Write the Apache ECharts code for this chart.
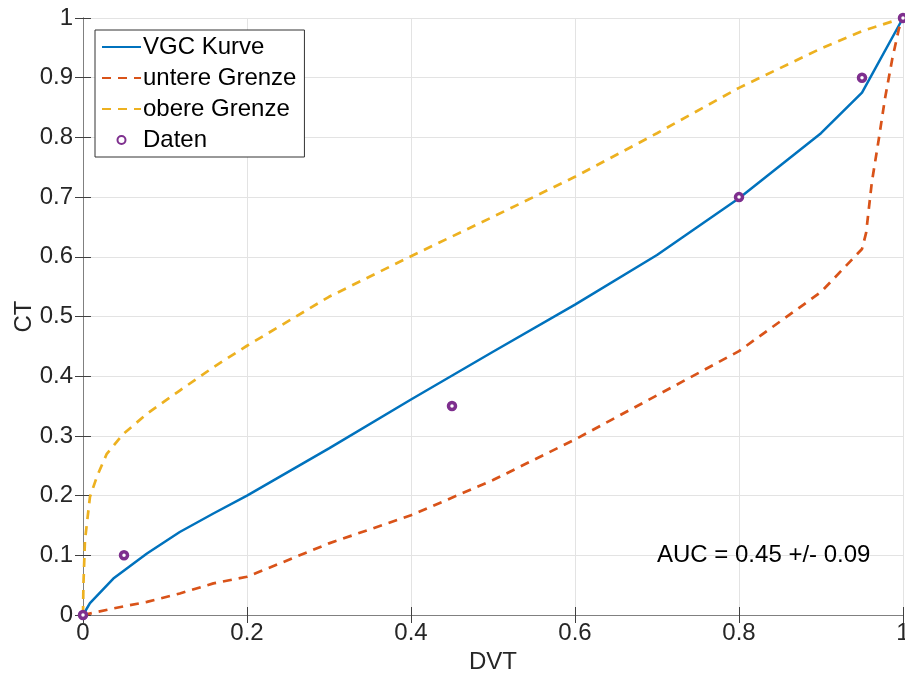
<!DOCTYPE html>
<html>
<head>
<meta charset="utf-8">
<script src="https://cdn.jsdelivr.net/npm/echarts@6/dist/echarts.min.js"></script>
<style>
  html, body { margin: 0; padding: 0; background: #fff; }
  #main { width: 905px; height: 681px; }
</style>
</head>
<body>
<div id="main"></div>
<script>
// VGC Kurve
const vgcX = [0, 0.0085, 0.037, 0.078, 0.118, 0.159, 0.2, 0.3, 0.4, 0.5, 0.6, 0.7, 0.8, 0.9, 0.95, 1]
const vgcY = [0, 0.02, 0.061, 0.103, 0.139, 0.17, 0.2, 0.279, 0.361, 0.441, 0.52, 0.603, 0.698, 0.807, 0.875, 1]

// untere Grenze
const lowX = [0, 0.037, 0.078, 0.118, 0.159, 0.2, 0.3, 0.4, 0.5, 0.6, 0.7, 0.8, 0.9, 0.95, 0.955, 0.962, 0.97, 0.978, 0.987, 0.995, 1]
const lowY = [0, 0.011, 0.022, 0.036, 0.053, 0.064, 0.12, 0.167, 0.226, 0.294, 0.368, 0.442, 0.541, 0.613, 0.64, 0.725, 0.793, 0.865, 0.932, 0.982, 1]

// obere Grenze
const upX = [0, 0.0005, 0.0024, 0.0085, 0.017, 0.029, 0.049, 0.078, 0.118, 0.159, 0.2, 0.3, 0.4, 0.5, 0.6, 0.7, 0.8, 0.9, 0.95, 1]
const upY = [0, 0.05, 0.125, 0.198, 0.232, 0.27, 0.303, 0.337, 0.376, 0.415, 0.451, 0.533, 0.601, 0.667, 0.734, 0.807, 0.883, 0.949, 0.978, 1]

// Daten
const datX = [0, 0.05, 0.45, 0.8, 0.95, 1]
const datY = [0, 0.1, 0.35, 0.7, 0.9, 1]

const xTicks = [0, 0.2, 0.4, 0.6, 0.8, 1]
const yTicks = [0, 0.1, 0.2, 0.3, 0.4, 0.5, 0.6, 0.7, 0.8, 0.9, 1]

const aucText = "AUC = 0.45 +/- 0.09"

const zip = (xs, ys) => xs.map((x, i) => [x, ys[i]])

const font = "Liberation Sans, Arial, sans-serif"
const axisGray = "#808080"
const txt = "#262626"
const fs = 24
const purple = "#7E2F8E"

const myChart = echarts.init(document.getElementById("main"))

const baseAxis = {
  min: 0,
  max: 1,
  axisLine: { show: true, lineStyle: { color: axisGray, width: 1 } },
  axisTick: { show: true, inside: true, length: 8, lineStyle: { color: "#404040" } },
}

const option = {
  animation: false,
  backgroundColor: "#fff",
  textStyle: { fontFamily: font },
  grid: { left: 83, right: 2, top: 18, bottom: 66, containLabel: false, outerBoundsMode: "none" },
  legend: {
    orient: "vertical",
    left: 95,
    top: 30,
    padding: [5, 8, 5, 6],
    itemGap: 7,
    itemWidth: 39,
    itemHeight: 8,
    backgroundColor: "#fff",
    borderColor: "#333",
    borderWidth: 1,
    borderRadius: 0,
    textStyle: { fontSize: fs, color: "#000", fontFamily: font, padding: [0, 0, 0, -3] },
    data: [
      { name: "VGC Kurve", itemStyle: { opacity: 0 } },
      { name: "untere Grenze", itemStyle: { opacity: 0 } },
      { name: "obere Grenze", itemStyle: { opacity: 0 } },
      { name: "Daten", icon: "circle" },
    ],
  },
  xAxis: [
    {
      ...baseAxis,
      type: "value",
      position: "bottom",
      interval: xTicks[1] - xTicks[0],
      name: "DVT",
      nameLocation: "middle",
      nameGap: 35,
      nameMoveOverlap: false,
      nameTextStyle: { fontSize: fs, color: txt, fontFamily: font },
      axisLabel: { fontSize: fs, color: txt, margin: 6, fontFamily: font },
      splitLine: { show: true, lineStyle: { color: "#e3e3e3", width: 1 } },
    },
    {
      ...baseAxis,
      type: "value",
      position: "top",
      interval: xTicks[1] - xTicks[0],
      axisLabel: { show: false },
      splitLine: { show: false },
    },
  ],
  yAxis: [
    {
      ...baseAxis,
      type: "value",
      position: "left",
      interval: yTicks[1] - yTicks[0],
      name: "CT",
      nameLocation: "middle",
      nameGap: 47,
      nameMoveOverlap: false,
      nameTextStyle: { fontSize: fs, color: txt, fontFamily: font },
      axisLabel: { fontSize: fs, color: txt, margin: 10, fontFamily: font },
      splitLine: { show: true, lineStyle: { color: "#e3e3e3", width: 1 } },
    },
    {
      ...baseAxis,
      type: "value",
      position: "right",
      interval: yTicks[1] - yTicks[0],
      axisLabel: { show: false },
      splitLine: { show: false },
    },
  ],
  series: [
    {
      name: "VGC Kurve",
      type: "line",
      data: zip(vgcX, vgcY),
      symbol: "none",
      lineStyle: { color: "#0072BD", width: 2.5 },
      itemStyle: { color: "#0072BD" },
    },
    {
      name: "untere Grenze",
      type: "line",
      data: zip(lowX, lowY),
      symbol: "none",
      lineStyle: { color: "#D95319", width: 2.7, type: [9, 7] },
      itemStyle: { color: "#D95319" },
    },
    {
      name: "obere Grenze",
      type: "line",
      data: zip(upX, upY),
      symbol: "none",
      lineStyle: { color: "#EDB120", width: 2.7, type: [9, 7] },
      itemStyle: { color: "#EDB120" },
    },
    {
      name: "Daten",
      type: "scatter",
      data: zip(datX, datY),
      symbol: "circle",
      symbolSize: 7,
      itemStyle: { color: "#fff", borderColor: purple, borderWidth: 3.5, opacity: 1 },
      z: 5,
    },
  ],
  graphic: [
    {
      type: "text",
      left: 657,
      top: 543,
      style: { text: aucText, fontSize: fs, fill: "#000", fontFamily: font },
      z: 10,
    },
  ],
}

option && myChart.setOption(option)
</script>
</body>
</html>
